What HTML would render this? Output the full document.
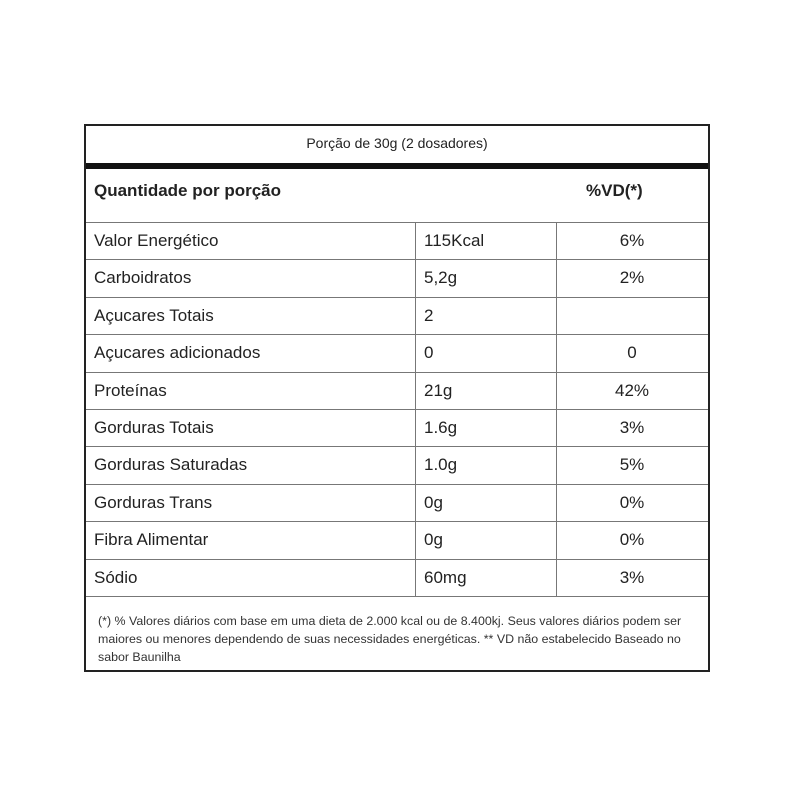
<!DOCTYPE html>
<html><head><meta charset="utf-8"><style>
body{margin:0;width:800px;height:800px;background:#fff;position:relative;font-family:"Liberation Sans",sans-serif;color:#222;}
.a{position:absolute;}
.box{left:84px;top:124px;width:622px;height:544px;border:2px solid #222;}
.thick{left:86px;top:163px;width:622px;height:6px;background:#111;}
.h{background:#777;height:1px;left:86px;width:622px;}
.v{background:#777;width:1px;top:222px;height:374px;}
.t{font-size:17px;line-height:20px;}
</style></head><body>
<div class="a box"></div>
<div class="a thick"></div>
<div class="a" style="left:86px;top:135px;width:622px;text-align:center;font-size:14px;">Porção de 30g (2 dosadores)</div>
<div class="a" style="left:94px;top:181px;font-size:17px;font-weight:bold;">Quantidade por porção</div>
<div class="a" style="left:586px;top:181px;font-size:17px;font-weight:bold;">%VD(*)</div>
<div class="a h" style="top:222px"></div>
<div class="a v" style="left:415px"></div>
<div class="a v" style="left:556px"></div>
<div id="rows"></div>
<div class="a" style="left:98px;top:612px;width:600px;font-size:12.4px;line-height:18px;color:#333;">(*) % Valores diários com base em uma dieta de 2.000 kcal ou de 8.400kj. Seus valores diários podem ser maiores ou menores dependendo de suas necessidades energéticas. ** VD não estabelecido Baseado no sabor Baunilha</div>
<script>
var d=[["Valor Energético","115Kcal","6%"],["Carboidratos","5,2g","2%"],["Açucares Totais","2",""],["Açucares adicionados","0","0"],["Proteínas","21g","42%"],["Gorduras Totais","1.6g","3%"],["Gorduras Saturadas","1.0g","5%"],["Gorduras Trans","0g","0%"],["Fibra Alimentar","0g","0%"],["Sódio","60mg","3%"]];
var h="";d.forEach(function(r,i){var y=222+i*37.4;
h+='<div class="a t" style="left:94px;top:'+(y+9)+'px">'+r[0]+'</div>';
h+='<div class="a t" style="left:424px;top:'+(y+9)+'px">'+r[1]+'</div>';
h+='<div class="a t" style="left:557px;width:150px;text-align:center;top:'+(y+9)+'px">'+r[2]+'</div>';
h+='<div class="a h" style="top:'+Math.round(y+37.4)+'px"></div>';});
document.getElementById("rows").innerHTML=h;
</script>
</body></html>
